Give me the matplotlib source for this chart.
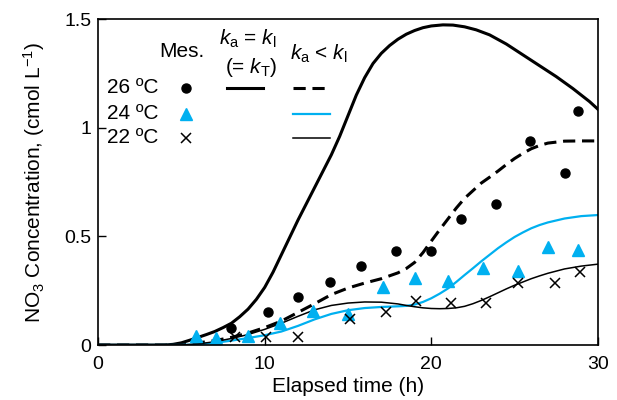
import matplotlib
matplotlib.use("Agg")
import matplotlib.pyplot as plt

plt.rcParams["font.family"] = ["Liberation Sans", "DejaVu Sans"]
plt.rcParams["mathtext.fontset"] = "custom"
plt.rcParams["mathtext.rm"] = "Liberation Sans"
plt.rcParams["mathtext.it"] = "Liberation Sans:italic"

CYAN = "#00B0F0"

# measured values
x26 = [8.0, 10.2, 12.0, 13.9, 15.8, 17.9, 20.0, 21.8, 23.9, 25.9, 28.0, 28.8]
y26 = [0.078, 0.150, 0.219, 0.290, 0.362, 0.431, 0.431, 0.580, 0.649, 0.937, 0.792, 1.077]
x24 = [5.9, 7.1, 9.0, 10.9, 12.9, 15.0, 17.1, 19.0, 21.0, 23.1, 25.2, 27.0, 28.8]
y24 = [0.043, 0.031, 0.043, 0.101, 0.158, 0.141, 0.268, 0.307, 0.294, 0.354, 0.342, 0.452, 0.437]
x22 = [8.2, 10.1, 12.0, 15.1, 17.3, 19.1, 21.2, 23.3, 25.2, 27.4, 28.9]
y22 = [0.035, 0.035, 0.035, 0.120, 0.153, 0.203, 0.193, 0.193, 0.287, 0.284, 0.334]

# model: ka = kl (26 C)
t_eq = [0, 4, 4.5, 5, 5.5, 6, 6.5, 7, 7.5, 8, 8.5, 9, 9.5, 10, 10.5, 11, 11.5, 12, 12.5,
        13, 13.5, 14, 14.5, 15, 15.5, 16, 16.5, 17, 17.5, 18, 18.5, 19, 19.5, 20, 20.7,
        21.3, 22, 22.7, 23.5, 24.5, 25.5, 26.5, 27.5, 28.5, 29.5, 30]
c_eq = [0, 0, 0.003, 0.01, 0.022, 0.035, 0.048, 0.062, 0.08, 0.10, 0.13, 0.165, 0.21,
        0.265, 0.335, 0.415, 0.495, 0.575, 0.65, 0.725, 0.80, 0.875, 0.96, 1.055, 1.15,
        1.23, 1.295, 1.342, 1.378, 1.407, 1.43, 1.447, 1.46, 1.468, 1.473, 1.472, 1.464,
        1.45, 1.427, 1.385, 1.335, 1.285, 1.235, 1.18, 1.12, 1.085]

# model: ka < kl
t_lt = [0, 5, 6, 7, 8, 9, 10, 11, 12, 13, 14, 15, 16, 17, 18, 18.5, 19, 19.5, 20, 20.5,
        21, 21.5, 22, 22.5, 23, 23.5, 24, 24.5, 25, 25.5, 26, 26.5, 27, 28, 29, 30]
c26 = [0, 0, 0.01, 0.02, 0.035, 0.055, 0.08, 0.11, 0.15, 0.19, 0.232, 0.262, 0.285,
       0.305, 0.332, 0.352, 0.38, 0.425, 0.478, 0.53, 0.58, 0.63, 0.675, 0.71, 0.745,
       0.772, 0.80, 0.83, 0.858, 0.882, 0.903, 0.918, 0.929, 0.938, 0.939, 0.939]
c24 = [0, 0, 0.003, 0.01, 0.02, 0.032, 0.045, 0.062, 0.088, 0.118, 0.143, 0.16, 0.17,
       0.175, 0.178, 0.18, 0.186, 0.198, 0.215, 0.236, 0.26, 0.29, 0.322, 0.353, 0.385,
       0.415, 0.445, 0.472, 0.497, 0.518, 0.537, 0.552, 0.564, 0.582, 0.593, 0.598]
c22 = [0, 0, 0.005, 0.015, 0.03, 0.048, 0.072, 0.10, 0.132, 0.162, 0.182, 0.193, 0.198,
       0.197, 0.189, 0.182, 0.176, 0.171, 0.168, 0.167, 0.168, 0.171, 0.178, 0.19, 0.205,
       0.222, 0.24, 0.258, 0.275, 0.29, 0.305, 0.318, 0.33, 0.35, 0.363, 0.372]

fig = plt.figure(figsize=(6.17, 4.0), dpi=100)
ax = fig.add_axes([0.159, 0.1375, 0.81, 0.815])

ax.plot(t_eq, c_eq, color="black", lw=2.2)
ax.plot(t_lt, c26, color="black", lw=2.2, dashes=(4, 2.2))
ax.plot(t_lt, c24, color=CYAN, lw=1.6)
ax.plot(t_lt, c22, color="black", lw=1.1)

ax.plot(x26, y26, "o", color="black", ms=6.5, ls="none")
ax.plot(x24, y24, "^", color=CYAN, ms=8, ls="none")
ax.plot(x22, y22, "x", color="black", ms=7, mew=1.1, ls="none")

ax.set_xlim(0, 30)
ax.set_ylim(0, 1.5)
ax.set_xticks([0, 10, 20, 30])
ax.set_yticks([0, 0.5, 1, 1.5])
ax.set_yticklabels(["0", "0.5", "1", "1.5"])
ax.tick_params(direction="in", length=6, labelsize=14, width=1)
ax.tick_params(axis="x", pad=8)
ax.tick_params(axis="y", pad=5)
for s in ax.spines.values():
    s.set_linewidth(1.2)
ax.set_xlabel("Elapsed time (h)", fontsize=15, labelpad=3)
ax.set_ylabel("NO$_3$ Concentration, (cmol L$^{-1}$)", fontsize=15, labelpad=12)

# legend drawn as a small table
tr = ax.transAxes
fs = 15
ax.text(0.168, 0.900, "Mes.", transform=tr, ha="center", va="center", fontsize=fs)
ax.text(0.300, 0.940, "$k_{\\rm a}$ = $k_{\\rm l}$", transform=tr, ha="center", va="center", fontsize=fs)
ax.text(0.306, 0.852, "(= $k_{\\rm T}$)", transform=tr, ha="center", va="center", fontsize=fs)
ax.text(0.442, 0.893, "$k_{\\rm a}$ < $k_{\\rm l}$", transform=tr, ha="center", va="center", fontsize=fs)
rows = ["26 ºC", "24 ºC", "22 ºC"]
ry = [0.789, 0.709, 0.635]
for lab, yy in zip(rows, ry):
    ax.text(0.121, yy, lab, transform=tr, ha="right", va="center", fontsize=fs)
ax.plot([0.176], [ry[0]], "o", color="black", ms=6.5, transform=tr)
ax.plot([0.176], [ry[1]], "^", color=CYAN, ms=8, transform=tr)
ax.plot([0.176], [ry[2]], "x", color="black", ms=7, mew=1.1, transform=tr)
ax.plot([0.257, 0.33], [ry[0], ry[0]], color="black", lw=2.2, transform=tr)
ax.plot([0.39, 0.464], [ry[0], ry[0]], color="black", lw=2.2, dashes=(4, 2.2), transform=tr)
ax.plot([0.39, 0.464], [ry[1], ry[1]], color=CYAN, lw=1.6, transform=tr)
ax.plot([0.39, 0.464], [ry[2], ry[2]], color="black", lw=1.1, transform=tr)

fig.savefig("out.png", dpi=100)
